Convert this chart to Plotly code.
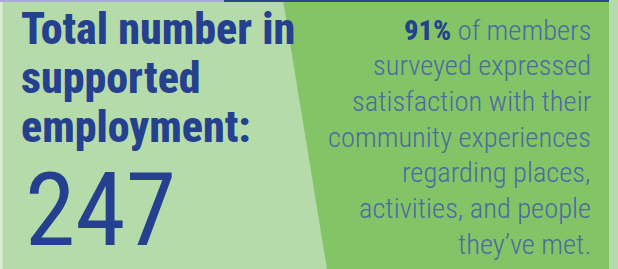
import plotly.graph_objects as go

# ---- data (values shown in the infographic) ----
heading_lines = ["Total number in", "supported", "employment:"]
employment_total = 247
satisfaction_pct = 91
statement_lines = [
    "of members",
    "surveyed expressed",
    "satisfaction with their",
    "community experiences",
    "regarding places,",
    "activities, and people",
    "they\u2019ve met.",
]

W, H = 618, 269
LIGHT = "#b6dbaa"
DARK = "#83c467"
BLUE = "#24408e"
GREYBLUE = "#4c6b9e"
NARROW = "Roboto Condensed, DejaVu Sans Condensed, sans-serif"

fig = go.Figure()
fig.add_trace(go.Scatter(x=[0, W], y=[0, H], mode="markers",
                         marker=dict(opacity=0), hoverinfo="skip", showlegend=False))

shapes = [
    dict(type="path", path=f"M 283 0 L 609 0 L 609 {H} L 327 {H} Z",
         fillcolor=DARK, line=dict(width=0), layer="below"),
    dict(type="rect", x0=0, x1=2.5, y0=0, y1=H, fillcolor="#dcebd3",
         line=dict(width=0), layer="below"),
    dict(type="rect", x0=0, x1=224, y0=0, y1=2, fillcolor="#a7a9d6",
         line=dict(width=0), layer="below"),
    dict(type="rect", x0=224, x1=609, y0=0, y1=2, fillcolor="#2a4594",
         line=dict(width=0), layer="below"),
]

ann = []
fs_head = 44
head_baselines = [44, 93, 142]
for txt, b in zip(heading_lines, head_baselines):
    ann.append(dict(x=19, y=b - 0.35 * fs_head, text=txt, showarrow=False,
                    xanchor="left", yanchor="middle",
                    font=dict(family=NARROW, size=fs_head, color=BLUE, weight=800)))

fs_num = 102
ann.append(dict(x=24, y=246 - 0.35 * fs_num, text=str(employment_total), showarrow=False,
                xanchor="left", yanchor="middle", borderpad=0,
                font=dict(family=NARROW, size=fs_num, color=BLUE, weight=400)))

fs_r = 28.5
for i, txt in enumerate(statement_lines):
    b = 40 + 35.7 * i
    if i == 0:
        txt = f"<span style='color:{BLUE};font-weight:800'>{satisfaction_pct}%</span> " + txt
    ann.append(dict(x=593, y=b - 0.35 * fs_r, text=txt, showarrow=False,
                    xanchor="right", yanchor="middle", align="right",
                    font=dict(family=NARROW, size=fs_r, color=GREYBLUE, weight=300)))

fig.update_layout(
    width=W, height=H, margin=dict(l=0, r=0, t=0, b=0),
    paper_bgcolor=LIGHT, plot_bgcolor=LIGHT,
    xaxis=dict(range=[0, W], visible=False, fixedrange=True),
    yaxis=dict(range=[H, 0], visible=False, fixedrange=True),
    shapes=shapes, annotations=ann, showlegend=False,
)
fig.write_html("out.html", config={"displayModeBar": False},
               post_script="document.body.style.margin='0';document.body.style.overflow='hidden';")
